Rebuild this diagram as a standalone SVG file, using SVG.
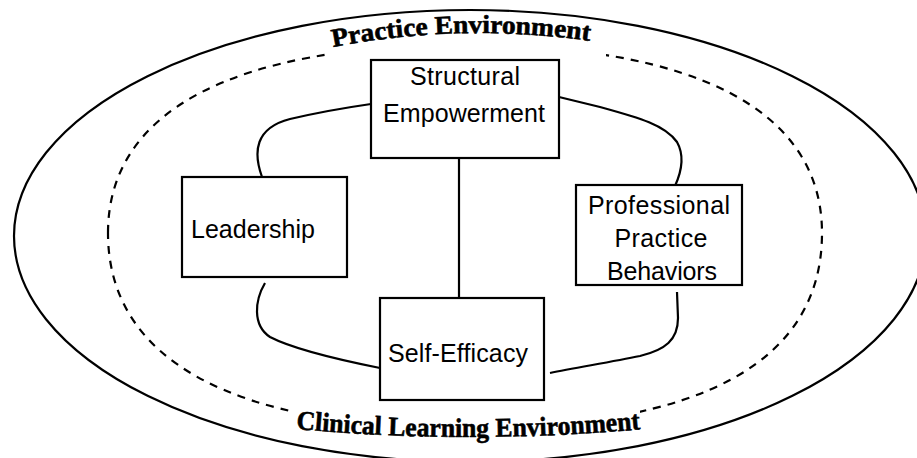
<svg xmlns="http://www.w3.org/2000/svg" width="917" height="458" viewBox="0 0 917 458">
  <style>
    .box { fill: #fff; stroke: #000; stroke-width: 2.2; }
    .con { fill: none; stroke: #000; stroke-width: 2.2; }
    .lbl { font-family: "Liberation Sans", Arial, sans-serif; font-size: 25px; fill: #000; }
    .env { font-family: "Liberation Serif", "Times New Roman", serif; font-weight: bold; fill: #000; stroke: #000; stroke-width: 0.6; }
    .mask { fill: #fff; stroke: none; }
  </style>
  <defs>
    <path id="topArc" d="M 333 47 Q 465 22 597 42"/>
    <path id="botArc" d="M 296 429 Q 470 445 644 429"/>
  </defs>
  <rect x="0" y="0" width="917" height="458" fill="#fff"/>

  <g id="clinical-learning-environment">
    <path d="M 108 233 C 108 111 233 45 465 45 C 697 45 822 111 822 233 C 822 360 705 428 465 428 C 233 428 108 360 108 233 Z" fill="none" stroke="#000" stroke-width="2.2" stroke-dasharray="8 7"/>
    <rect class="mask" x="329" y="28" width="277" height="30"/>
    <rect class="mask" x="293" y="403" width="347" height="42"/>
  </g>

  <g id="practice-environment">
    <ellipse cx="470" cy="236" rx="456" ry="226" fill="none" stroke="#000" stroke-width="2.2"/>
  </g>

  <g id="env-labels">
    <text class="env" font-size="26"><textPath href="#topArc" textLength="258" lengthAdjust="spacingAndGlyphs">Practice Environment</textPath></text>
    <text class="env" font-size="27"><textPath href="#botArc" textLength="345" lengthAdjust="spacingAndGlyphs">Clinical Learning Environment</textPath></text>
  </g>

  <g id="connectors">
    <path class="con" d="M 262 177 C 253 152 255 128 290 119 C 320 112 350 107 371 104"/>
    <path class="con" d="M 559 97 L 600 107 C 640 118 665 125 677 142 C 686 158 680 175 675 186"/>
    <path class="con" d="M 265 283 C 255 300 252 325 270 337 C 295 350 340 360 380 368"/>
    <path class="con" d="M 677 292 L 678 318 C 678 340 665 350 640 356 C 610 362 575 368 550 373"/>
    <path class="con" d="M 459 158 L 459 298"/>
  </g>

  <g id="structural-empowerment">
    <rect class="box" x="371" y="60" width="188" height="98"/>
    <text class="lbl" x="465" y="85" text-anchor="middle" textLength="110">Structural</text>
    <text class="lbl" x="464" y="122" text-anchor="middle" textLength="162">Empowerment</text>
  </g>

  <g id="leadership">
    <rect class="box" x="182" y="177" width="165" height="100"/>
    <text class="lbl" x="191" y="238" textLength="124">Leadership</text>
  </g>

  <g id="professional-practice-behaviors">
    <rect class="box" x="576" y="185" width="166" height="100"/>
    <text class="lbl" x="659" y="214" text-anchor="middle" textLength="142">Professional</text>
    <text class="lbl" x="661" y="247" text-anchor="middle" textLength="93">Practice</text>
    <text class="lbl" x="662" y="280" text-anchor="middle" textLength="110">Behaviors</text>
  </g>

  <g id="self-efficacy">
    <rect class="box" x="380" y="298" width="164" height="102"/>
    <text class="lbl" x="458" y="362" text-anchor="middle" textLength="140">Self-Efficacy</text>
  </g>
</svg>
